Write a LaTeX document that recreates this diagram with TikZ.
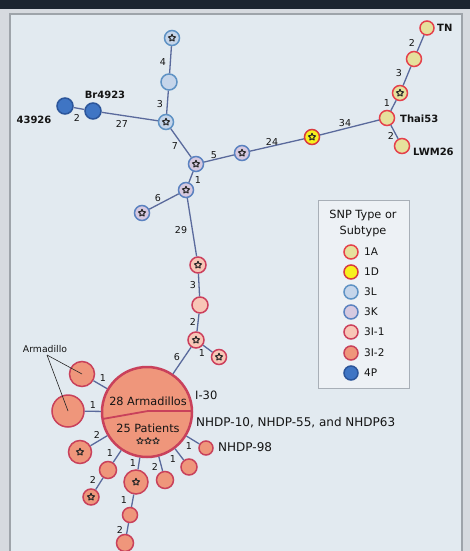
\documentclass[tikz,border=0pt]{standalone}
\usepackage{fontspec}
\setmainfont{DejaVu Sans}
\usetikzlibrary{shapes.geometric}
\definecolor{outerc}{HTML}{D6DADF}
\definecolor{topbar}{HTML}{1C2530}
\definecolor{panel}{HTML}{E2EAF0}
\definecolor{frame}{HTML}{9EA4AA}
\definecolor{legbg}{HTML}{EDF1F5}
\definecolor{legfr}{HTML}{A8AFB7}
\definecolor{edgec}{HTML}{5A6A9C}
\definecolor{txt}{HTML}{141414}
\definecolor{fA}{HTML}{E6E19C}\definecolor{dA}{HTML}{E5404B}
\definecolor{fD}{HTML}{F7F01E}\definecolor{dD}{HTML}{D93A3E}
\definecolor{fL}{HTML}{C5D5EA}\definecolor{dL}{HTML}{5E92C4}
\definecolor{fK}{HTML}{D6C9E0}\definecolor{dK}{HTML}{5A82C0}
\definecolor{fIa}{HTML}{F8C6B6}\definecolor{dIa}{HTML}{CC3F5C}
\definecolor{fIb}{HTML}{EF967B}\definecolor{dIb}{HTML}{C9415B}
\definecolor{fP}{HTML}{3F75C4}\definecolor{dP}{HTML}{2B559A}
\begin{document}
\begin{tikzpicture}[x=1pt,y=-1pt,
  nd/.style={circle, inner sep=0pt, minimum size=15pt, line width=1.5pt},
  oneA/.style={nd, fill=fA, draw=dA},
  oneD/.style={nd, fill=fD, draw=dD},
  threeL/.style={nd, fill=fL, draw=dL},
  threeK/.style={nd, fill=fK, draw=dK},
  threeIa/.style={nd, fill=fIa, draw=dIa},
  threeIb/.style={nd, fill=fIb, draw=dIb},
  fourP/.style={nd, fill=fP, draw=dP},
  starmark/.style={star, star points=5, star point ratio=2.1, minimum size=7.5pt, inner sep=0pt, draw=black!85, line width=1pt, line join=round, fill=none},
  starred/.style={label={[starmark]center:{}}},
  conn/.style={draw=edgec, line width=1.3pt},
  elab/.style={font=\fontsize{9.5}{10}\selectfont, text=txt, inner sep=0pt},
  bold/.style={font=\fontsize{10}{12}\selectfont\bfseries, text=txt, inner sep=0pt},
  reg/.style={font=\fontsize{12}{14}\selectfont, text=txt, inner sep=0pt},
  leg/.style={font=\fontsize{10.5}{12}\selectfont, text=txt, inner sep=0pt, anchor=west},
  lgc/.style={minimum size=14pt}
]
\useasboundingbox (0,0) rectangle (470,551);
\fill[outerc] (0,0) rectangle (470,551);
\fill[topbar] (0,0) rectangle (470,9);
\filldraw[fill=panel, draw=frame, line width=1.5pt] (10,14) rectangle (462,570);

% top cluster
\node[threeL, starred] (a1) at (172,38) {};
\node[threeL, minimum size=16pt] (a2) at (169,82) {};
\node[threeL, starred] (a3) at (166,122) {};
\node[fourP, minimum size=16pt] (b1) at (93,111) {};
\node[fourP, minimum size=16pt] (b2) at (65,106) {};
\node[threeK, starred] (c1) at (196,164) {};
\node[threeK, starred] (c2) at (186,190) {};
\node[threeK, starred] (c3) at (142,213) {};
\node[threeK, starred] (c4) at (242,153) {};
\node[oneD, starred] (d1) at (312,137) {};
\node[oneA] (t1) at (387,118) {};
\node[oneA, starred] (t2) at (400,93) {};
\node[oneA] (t3) at (414,59) {};
\node[oneA, minimum size=14pt] (t4) at (427,28) {};
\node[oneA] (t5) at (402,146) {};

% 3I chain
\node[threeIa, starred, minimum size=16pt] (p1) at (198,265) {};
\node[threeIa, minimum size=16pt] (p2) at (200,305) {};
\node[threeIa, starred, minimum size=16pt] (p3) at (196,340) {};
\node[threeIa, starred] (p4) at (219,357) {};

% big node
\node[threeIb, minimum size=90pt, line width=2.5pt] (big) at (147,412) {};
\draw[dIb, line width=1.8pt] (102.5,419) -- (148,411) -- (191.5,411);
\node[font=\fontsize{11.3}{13}\selectfont, text=txt, inner sep=0pt] (t28) at (148,401) {28 Armadillos};
\node[font=\fontsize{11.3}{13}\selectfont, text=txt, inner sep=0pt] (t25) at (148,428) {25 Patients};
\node[starmark, minimum size=7pt, line width=0.8pt] (s1) at (140,441) {};
\node[starmark, minimum size=7pt, line width=0.8pt] (s2) at (148,441) {};
\node[starmark, minimum size=7pt, line width=0.8pt] (s3) at (156,441) {};

% armadillos and satellites
\node[threeIb, minimum size=25pt] (m1) at (82,374) {};
\node[threeIb, minimum size=32pt] (m2) at (68,411) {};
\node[threeIb, starred, minimum size=23pt] (q1) at (80,452) {};
\node[threeIb, minimum size=17pt] (q2) at (108,470) {};
\node[threeIb, starred, minimum size=16pt] (q3) at (91,497) {};
\node[threeIb, starred, minimum size=24pt] (q4) at (136,482) {};
\node[threeIb, minimum size=15pt] (q5) at (130,515) {};
\node[threeIb, minimum size=17pt] (q6) at (125,543) {};
\node[threeIb, minimum size=17pt] (q7) at (165,480) {};
\node[threeIb, minimum size=16pt] (q8) at (189,467) {};
\node[threeIb, minimum size=14pt] (q9) at (206,448) {};

% connectors
\path[conn] (b2) -- (b1);
\path[conn] (b1) -- (a3);
\path[conn] (a1) -- (a2);
\path[conn] (a2) -- (a3);
\path[conn] (a3) -- (c1);
\path[conn] (c1) -- (c4);
\path[conn] (c1) -- (c2);
\path[conn] (c2) -- (c3);
\path[conn] (c2) -- (p1);
\path[conn] (c4) -- (d1);
\path[conn] (d1) -- (t1);
\path[conn] (t1) -- (t2);
\path[conn] (t2) -- (t3);
\path[conn] (t3) -- (t4);
\path[conn] (t1) -- (t5);
\path[conn] (p1) -- (p2);
\path[conn] (p2) -- (p3);
\path[conn] (p3) -- (p4);
\path[conn] (p3) -- (big);
\path[conn] (big) -- (m1);
\path[conn] (big) -- (m2);
\path[conn] (big) -- (q1);
\path[conn] (big) -- (q2);
\path[conn] (q2) -- (q3);
\path[conn] (big) -- (q4);
\path[conn] (q4) -- (q5);
\path[conn] (q5) -- (q6);
\path[conn] (big) -- (q7);
\path[conn] (big) -- (q8);
\path[conn] (big) -- (q9);

% Armadillo pointer
\node[font=\fontsize{9.3}{10}\selectfont, text=txt, inner sep=0pt] (arm) at (45,349) {Armadillo};
\coordinate (armp) at (47,355);
\draw[black!85, line width=0.6pt] (armp) -- (m1.center);
\draw[black!85, line width=0.6pt] (armp) -- (m2.center);

% edge labels
\node[elab] (e1) at (77,118) {2};
\node[elab] (e2) at (122,124) {27};
\node[elab] (e3) at (163,62) {4};
\node[elab] (e4) at (160,104) {3};
\node[elab] (e5) at (175,146) {7};
\node[elab] (e6) at (214,155) {5};
\node[elab] (e7) at (198,180) {1};
\node[elab] (e8) at (158,198) {6};
\node[elab] (e9) at (181,230) {29};
\node[elab] (e10) at (272,142) {24};
\node[elab] (e11) at (345,123) {34};
\node[elab] (e12) at (387,103) {1};
\node[elab] (e13) at (399,73) {3};
\node[elab] (e14) at (412,43) {2};
\node[elab] (e15) at (391,136) {2};
\node[elab] (e16) at (193,285) {3};
\node[elab] (e17) at (193,322) {2};
\node[elab] (e18) at (177,357) {6};
\node[elab] (e19) at (202,353) {1};
\node[elab] (e20) at (103,378) {1};
\node[elab] (e21) at (93,405) {1};
\node[elab] (e22) at (97,435) {2};
\node[elab] (e23) at (110,453) {1};
\node[elab] (e24) at (93,480) {2};
\node[elab] (e25) at (133,463) {1};
\node[elab] (e26) at (124,500) {1};
\node[elab] (e27) at (120,530) {2};
\node[elab] (e28) at (155,467) {2};
\node[elab] (e29) at (173,459) {1};
\node[elab] (e30) at (189,446) {1};

% names
\node[bold] (l43926) at (34,120) {43926};
\node[bold] (lBr) at (105,95) {Br4923};
\node[bold, anchor=west] (lTN) at (437,28) {TN};
\node[bold, anchor=west] (lThai) at (400,119) {Thai53};
\node[bold, anchor=west] (lLWM) at (413,152) {LWM26};
\node[reg, anchor=west, font=\fontsize{11.5}{13}\selectfont] (lI30) at (195,395) {I-30};
\node[reg, anchor=west] (lNH) at (196,423) {NHDP-10, NHDP-55, and NHDP63};
\node[reg, anchor=west] (lNH98) at (218,447) {NHDP-98};

% legend
\filldraw[fill=legbg, draw=legfr, line width=1pt] (318,200) rectangle (409,388);
\node[font=\fontsize{11.3}{12}\selectfont, text=txt, inner sep=0pt] (lt1) at (363,215) {SNP Type or};
\node[font=\fontsize{11.3}{12}\selectfont, text=txt, inner sep=0pt] (lt2) at (363,231) {Subtype};
\node[oneA, lgc] (g1) at (351,252) {}; \node[leg] (h1) at (364,252) {1A};
\node[oneD, lgc] (g2) at (351,272) {}; \node[leg] (h2) at (364,272) {1D};
\node[threeL, lgc] (g3) at (351,292) {}; \node[leg] (h3) at (364,292) {3L};
\node[threeK, lgc] (g4) at (351,312) {}; \node[leg] (h4) at (364,312) {3K};
\node[threeIa, lgc] (g5) at (351,332) {}; \node[leg] (h5) at (364,332) {3I-1};
\node[threeIb, lgc] (g6) at (351,353) {}; \node[leg] (h6) at (364,353) {3I-2};
\node[fourP, lgc] (g7) at (351,373) {}; \node[leg] (h7) at (364,373) {4P};
\end{tikzpicture}
\end{document}
